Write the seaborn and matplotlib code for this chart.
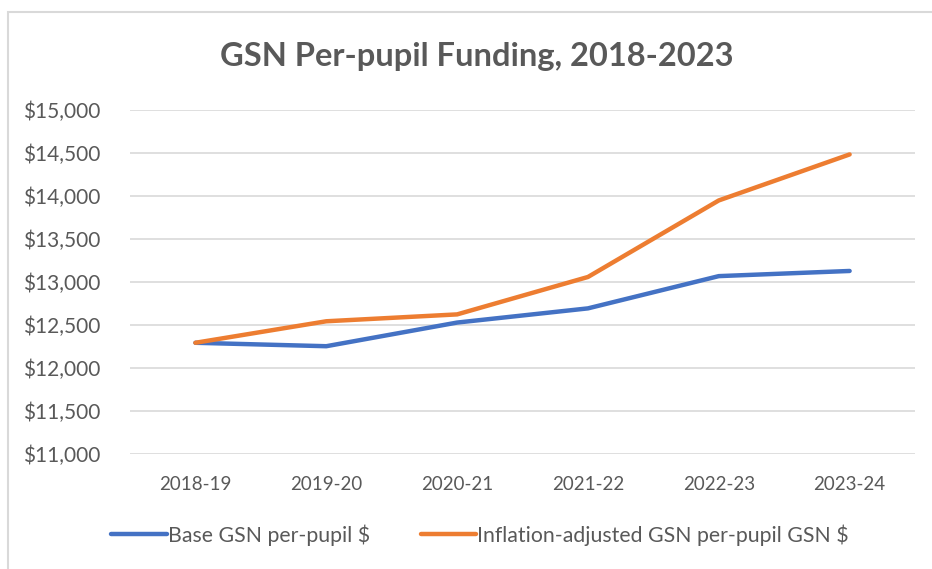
import matplotlib
matplotlib.use("Agg")
import matplotlib.pyplot as plt
import pandas as pd
import seaborn as sns
from matplotlib.patches import Rectangle
from matplotlib.ticker import FuncFormatter

years = ["2018-19", "2019-20", "2020-21", "2021-22", "2022-23", "2023-24"]
base_gsn = [12290, 12250, 12525, 12690, 13065, 13125]
inflation_gsn = [12290, 12540, 12620, 13055, 13945, 14480]
series_names = ["Base GSN per-pupil $", "Inflation-adjusted GSN per-pupil GSN $"]

BLUE = "#4472C4"
ORANGE = "#ED7D31"
TEXT = "#595959"
GRID = "#D9D9D9"

df = pd.DataFrame({
    "year": years * 2,
    "value": base_gsn + inflation_gsn,
    "series": [series_names[0]] * len(years) + [series_names[1]] * len(years),
})

sns.set_theme(style="white")
plt.rcParams["font.family"] = ["Lato", "DejaVu Sans"]

fig = plt.figure(figsize=(9.32, 5.69), dpi=100)
ax = fig.add_axes([0.1395, 0.2026, 0.8423, 0.6046])

sns.lineplot(data=df, x="year", y="value", hue="series", sort=False,
             palette=[BLUE, ORANGE], linewidth=3.2, ax=ax, legend=False)

ax.set_xlim(-0.5, len(years) - 0.5)
ax.set_ylim(11000, 15000)
ax.set_yticks(range(11000, 15001, 500))
ax.yaxis.set_major_formatter(FuncFormatter(lambda v, _: f"${v:,.0f}"))
ax.grid(axis="y", color=GRID, linewidth=1.2)
ax.set_axisbelow(True)
for s in ax.spines.values():
    s.set_visible(False)
ax.tick_params(axis="both", length=0, colors=TEXT)
ax.tick_params(axis="y", labelsize=15, pad=21)
ax.tick_params(axis="x", labelsize=13.5, pad=16)
ax.set_xlabel("")
ax.set_ylabel("")

fig.text(0.511, 0.90, "GSN Per-pupil Funding, 2018-2023", ha="center", va="center",
         fontsize=23.5, fontweight="bold", color=TEXT)

handles = [plt.Line2D([], [], color=c, linewidth=3.2) for c in (BLUE, ORANGE)]
leg = fig.legend(handles, series_names, loc="center", bbox_to_anchor=(0.515, 0.06),
                 ncol=2, frameon=False, fontsize=15.3, handlelength=2.6,
                 handletextpad=0.05, columnspacing=2.4)
for t in leg.get_texts():
    t.set_color(TEXT)

fig.patches.append(Rectangle((8 / 932, -0.1), 1.2, 1 - 12 / 569 + 0.1,
                             transform=fig.transFigure, fill=False,
                             edgecolor=GRID, linewidth=1.5))

fig.savefig("out.png", dpi=100, facecolor="white")
